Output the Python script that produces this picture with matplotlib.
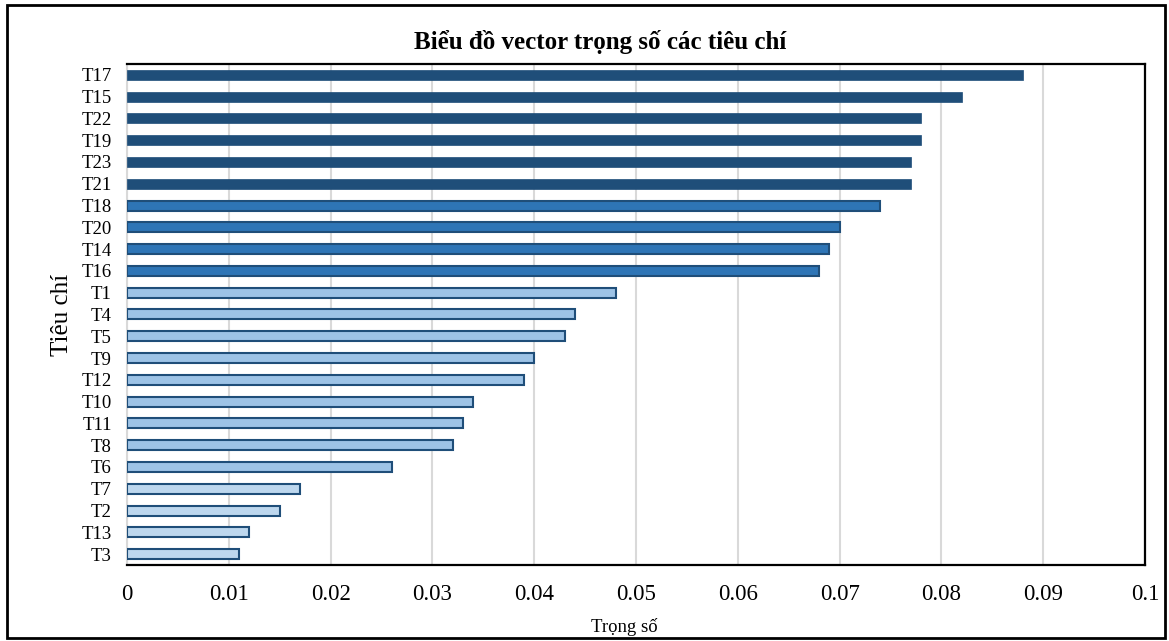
import matplotlib
matplotlib.use("Agg")
import matplotlib.pyplot as plt
from matplotlib.patches import Rectangle

categories = ["T17", "T15", "T22", "T19", "T23", "T21", "T18", "T20", "T14", "T16",
              "T1", "T4", "T5", "T9", "T12", "T10", "T11", "T8", "T6", "T7", "T2", "T13", "T3"]
weights = [0.088, 0.082, 0.078, 0.078, 0.077, 0.077, 0.074, 0.070, 0.069, 0.068,
           0.048, 0.044, 0.043, 0.040, 0.039, 0.034, 0.033, 0.032, 0.026, 0.017, 0.015, 0.012, 0.011]
groups = [0]*6 + [1]*4 + [2]*9 + [3]*4
x_ticks = [0, 0.01, 0.02, 0.03, 0.04, 0.05, 0.06, 0.07, 0.08, 0.09, 0.1]
x_tick_labels = ["0", "0.01", "0.02", "0.03", "0.04", "0.05", "0.06", "0.07", "0.08", "0.09", "0.1"]

fills = {0: "#1F4E79", 1: "#2E75B6", 2: "#9DC3E6", 3: "#BDD7EE"}
edges = {0: "#1F4E79", 1: "#1F4E79", 2: "#1F4E79", 3: "#1F4E79"}

plt.rcParams['font.family'] = ['Liberation Serif', 'DejaVu Serif']

fig = plt.figure(figsize=(11.69, 6.41), dpi=100)
ax = fig.add_axes([0.1086, 0.1186, 0.9795 - 0.1086, 0.9002 - 0.1186])

ypos = list(range(len(categories)))[::-1]
for y, v, g in zip(ypos, weights, groups):
    ax.barh(y, v, height=0.46, color=fills[g], edgecolor=edges[g],
            linewidth=1.5 if g > 0 else 0.5, zorder=3)

ax.set_yticks(ypos)
ax.set_yticklabels(categories, fontsize=13.5)
ax.set_ylim(-0.5, len(categories) - 0.5)
ax.set_xlim(0, 0.1)
ax.set_xticks(x_ticks)
ax.set_xticklabels(x_tick_labels, fontsize=16.5)
ax.tick_params(axis='x', length=0, pad=14)
ax.tick_params(axis='y', length=0, pad=11)
ax.grid(axis='x', color='#D9D9D9', linewidth=1.5, zorder=0)

for s in ['top', 'right', 'bottom']:
    ax.spines[s].set_color('black')
    ax.spines[s].set_linewidth(1.6)
ax.spines['left'].set_color('#D9D9D9')
ax.spines['left'].set_linewidth(1.5)

ax.set_xlabel("Trọng số", fontsize=13.5, labelpad=2)
ax.xaxis.set_label_coords(0.489, -0.105)
ax.set_ylabel("Tiêu chí", fontsize=18)
ax.yaxis.set_label_coords(-0.053, 0.5)
fig.text(0.513, 0.934, "Biểu đồ vector trọng số các tiêu chí", ha='center', va='center',
         fontsize=18, fontweight='bold')

fig.patches.append(Rectangle((0.006, 0.005), 0.991, 0.987, transform=fig.transFigure,
                             fill=False, edgecolor='black', linewidth=2))

fig.savefig("out.png", dpi=100)
